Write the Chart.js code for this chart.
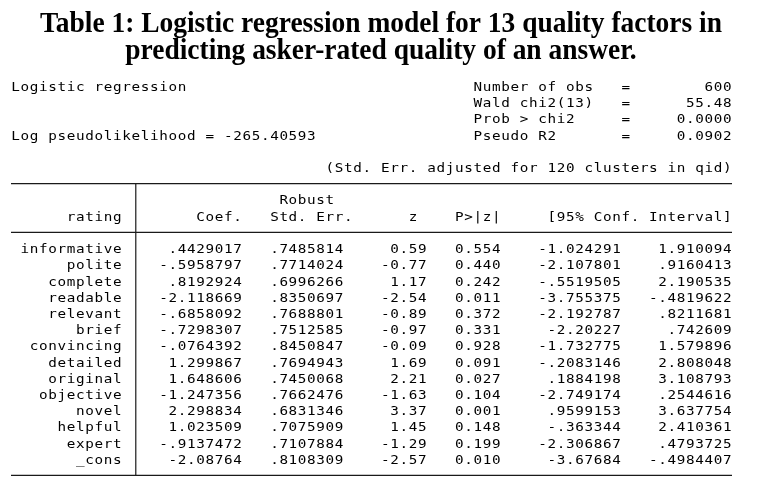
<!DOCTYPE html>
<html>
<head>
<meta charset="utf-8">
<title>Logistic regression table</title>
<script src="https://cdn.jsdelivr.net/npm/chart.js@4.4.1/dist/chart.umd.min.js"></script>
<style>
  html, body { margin: 0; padding: 0; background: #fff; }
  canvas { display: block; }
</style>
</head>
<body>
<canvas id="tableChart" width="757" height="488"></canvas>
<script>
// ---- data ----
const titleLines = ['Table 1: Logistic regression model for 13 quality factors in',
                    'predicting asker-rated quality of an answer.'];
const modelName = 'Logistic regression';
const logLik = -265.40593;
const statNames = ['Number of obs', 'Wald chi2(13)', 'Prob > chi2', 'Pseudo R2'];
const statValues = ['600', '55.48', '0.0000', '0.0902'];
const clusterNote = '(Std. Err. adjusted for 120 clusters in qid)';
const colHeads = ['rating', 'Coef.', 'Std. Err.', 'z', 'P>|z|', '[95% Conf. Interval]'];

const factors = ['informative', 'polite', 'complete', 'readable', 'relevant', 'brief', 'convincing',
                 'detailed', 'original', 'objective', 'novel', 'helpful', 'expert', '_cons'];
const coef = [0.4429017, -0.5958797, 0.8192924, -2.118669, -0.6858092, -0.7298307, -0.0764392,
              1.299867, 1.648606, -1.247356, 2.298834, 1.023509, -0.9137472, -2.08764];
const stdErr = [0.7485814, 0.7714024, 0.6996266, 0.8350697, 0.7688801, 0.7512585, 0.8450847,
                0.7694943, 0.7450068, 0.7662476, 0.6831346, 0.7075909, 0.7107884, 0.8108309];
const zStat = [0.59, -0.77, 1.17, -2.54, -0.89, -0.97, -0.09, 1.69, 2.21, -1.63, 3.37, 1.45, -1.29, -2.57];
const pValue = [0.554, 0.440, 0.242, 0.011, 0.372, 0.331, 0.928, 0.091, 0.027, 0.104, 0.001, 0.148, 0.199, 0.010];
const ciLow = [-1.024291, -2.107801, -0.5519505, -3.755375, -2.192787, -2.20227, -1.732775,
               -0.2083146, 0.1884198, -2.749174, 0.9599153, -0.363344, -2.306867, -3.67684];
const ciHigh = [1.910094, 0.9160413, 2.190535, -0.4819622, 0.8211681, 0.742609, 1.579896,
                2.808048, 3.108793, 0.2544616, 3.637754, 2.410361, 0.4793725, -0.4984407];

// ---- layout: Stata output is a character grid, 78 columns wide ----
const GRID_COLS = 78;
const GRID_LINES = 24;
const FIRST_ROW = 10;
const RULE_LIFT = 0.28;  // rules sit a bit above the text baseline

// Stata %9.0g style: drop the leading zero
const g = (v) => String(v).replace(/^(-?)0\./, '$1.');

function cells(texts, col, firstLine, align) {
  return { align, data: texts.map((t, i) => ({ x: col, y: firstLine + i, t: String(t) })) };
}
function rule(x0, y0, x1, y1) {
  return {
    type: 'line', data: [{ x: x0, y: y0 }, { x: x1, y: y1 }],
    borderColor: '#1a1a1a', borderWidth: 1.2, pointRadius: 0, fill: false
  };
}

const textSets = [
  cells([modelName], 0, 0, 'left'),
  cells(['Log pseudolikelihood = ' + logLik], 0, 3, 'left'),
  cells(statNames, 50, 0, 'left'),
  cells(statNames.map(() => '='), 66, 0, 'left'),
  cells(statValues, 78, 0, 'right'),
  cells([clusterNote], 78, 5, 'right'),
  cells(['Robust'], 35, 7, 'right'),
  cells([colHeads[0]], 12, 8, 'right'),
  cells([colHeads[1]], 25, 8, 'right'),
  cells([colHeads[2]], 37, 8, 'right'),
  cells([colHeads[3]], 44, 8, 'right'),
  cells([colHeads[4]], 53, 8, 'right'),
  cells([colHeads[5]], 78, 8, 'right'),
  cells(factors, 12, FIRST_ROW, 'right'),
  cells(coef.map(g), 25, FIRST_ROW, 'right'),
  cells(stdErr.map(g), 36, FIRST_ROW, 'right'),
  cells(zStat.map((v) => v.toFixed(2)), 45, FIRST_ROW, 'right'),
  cells(pValue.map((v) => v.toFixed(3)), 53, FIRST_ROW, 'right'),
  cells(ciLow.map(g), 66, FIRST_ROW, 'right'),
  cells(ciHigh.map(g), 78, FIRST_ROW, 'right')
].map((s) => ({ type: 'scatter', pointRadius: 0, ...s }));

const ruleSets = [
  rule(0, 6 - RULE_LIFT, GRID_COLS, 6 - RULE_LIFT),
  rule(0, 9 - RULE_LIFT, GRID_COLS, 9 - RULE_LIFT),
  rule(0, GRID_LINES - RULE_LIFT, GRID_COLS, GRID_LINES - RULE_LIFT),
  rule(13.5, 6 - RULE_LIFT, 13.5, GRID_LINES - RULE_LIFT)
];

// draws each character centred in its grid cell
const gridText = {
  id: 'gridText',
  afterDatasetsDraw(chart) {
    const { ctx, scales: { x, y } } = chart;
    ctx.save();
    ctx.font = '13px "DejaVu Sans Mono"';
    ctx.fillStyle = '#000';
    ctx.textAlign = 'center';
    ctx.textBaseline = 'alphabetic';
    chart.data.datasets.forEach((ds) => {
      if (!ds.align) return;
      ds.data.forEach((p) => {
        const start = ds.align === 'right' ? p.x - p.t.length : p.x;
        [...p.t].forEach((ch, k) => {
          if (ch === ' ') return;
          ctx.save();
          ctx.translate(x.getPixelForValue(start + k + 0.5), y.getPixelForValue(p.y));
          ctx.scale(1.1, 1);
          ctx.fillText(ch, 0, 0);
          ctx.restore();
        });
      });
    });
    ctx.restore();
  }
};

const tableTitle = {
  id: 'tableTitle',
  afterDraw(chart) {
    const { ctx } = chart;
    ctx.save();
    ctx.font = 'bold 30px "Liberation Serif"';
    ctx.fillStyle = '#000';
    ctx.textAlign = 'center';
    titleLines.forEach((line, i) => {
      ctx.save();
      ctx.translate(381, 31.7 + i * 27.6);
      ctx.scale(0.915, 1);
      ctx.fillText(line, 0, 0);
      ctx.restore();
    });
    ctx.restore();
  }
};

new Chart(document.getElementById('tableChart').getContext('2d'), {
  type: 'scatter',
  data: { datasets: [...ruleSets, ...textSets] },
  options: {
    responsive: false,
    animation: false,
    events: [],
    layout: { padding: { left: 11, right: 25, top: 91, bottom: 8 } },
    plugins: { legend: { display: false }, tooltip: { enabled: false }, title: { display: false } },
    scales: {
      x: { type: 'linear', min: 0, max: GRID_COLS, display: false },
      y: { type: 'linear', min: 0, max: GRID_LINES, reverse: true, display: false }
    }
  },
  plugins: [gridText, tableTitle]
});
</script>
</body>
</html>
